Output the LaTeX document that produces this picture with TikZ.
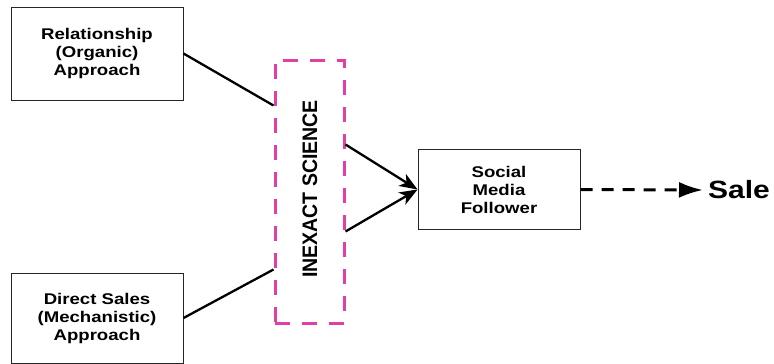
\documentclass[tikz,border=0pt]{standalone}
\usepackage{fontspec}
\setmainfont{Liberation Sans}
\newfontfamily\widesans[FakeStretch=1.2]{Liberation Sans}
\newfontfamily\narrowsans[FakeStretch=0.93]{Liberation Sans}
\usetikzlibrary{calc,arrows.meta}
\definecolor{inexmag}{RGB}{226,62,168}
\begin{document}
\begin{tikzpicture}[x=1pt,y=-1pt,
  box/.style={draw=black!85,line width=1pt,fill=white,align=center,
    font=\widesans\bfseries\fontsize{15.5}{18}\selectfont,inner sep=0pt},
  inexbox/.style={draw=inexmag,line width=3pt,dash pattern=on 15pt off 12pt,
    minimum width=69pt,minimum height=263pt,inner sep=0pt},
  link/.style={line width=2.3pt,black},
  feed/.style={line width=2.3pt,black,-{Stealth[length=18pt,width=14pt,inset=5pt]}},
  toward/.style={line width=3pt,black,dash pattern=on 12pt off 9pt,
    -{Latex[length=24pt,width=16pt]}}]
\useasboundingbox (0,0) rectangle (774,364);

% source approaches
\node[box,minimum width=172pt,minimum height=93pt] (rel) at (97,53.5)
  {Relationship\\(Organic)\\Approach};
\node[box,minimum width=172pt,minimum height=90pt] (dir) at (97,318)
  {Direct Sales\\(Mechanistic)\\Approach};

% the dashed band in the middle
\node[inexbox] (inex) at (309.5,191.5) {};
\node[rotate=90,font=\narrowsans\bfseries\fontsize{21}{24}\selectfont] (inexlbl) at (310,189)
  {INEXACT SCIENCE};

% outcome
\node[box,minimum width=162pt,minimum height=80pt] (smf) at (499,189.5)
  {Social\\Media\\Follower};
\node[font=\widesans\bfseries\fontsize{25}{28}\selectfont,inner sep=0pt,anchor=west]
  (sale) at (708,190) {Sale};

% connectors
\coordinate (relin) at ($(inex.north west)+(0,47)$);
\coordinate (dirin) at ($(inex.south west)+(0,-55)$);
\coordinate (topout) at ($(inex.north east)+(0,86)$);
\coordinate (botout) at ($(inex.south east)+(0,-93)$);
\draw[link] (rel.east) -- (relin);
\draw[link] (dir.east) -- (dirin);
\draw[feed] (topout) -- (smf.west);
\draw[feed] (botout) -- (smf.west);
\draw[toward] (smf.east) -- ($(sale.west)+(-5,0)$);
\end{tikzpicture}
\end{document}
